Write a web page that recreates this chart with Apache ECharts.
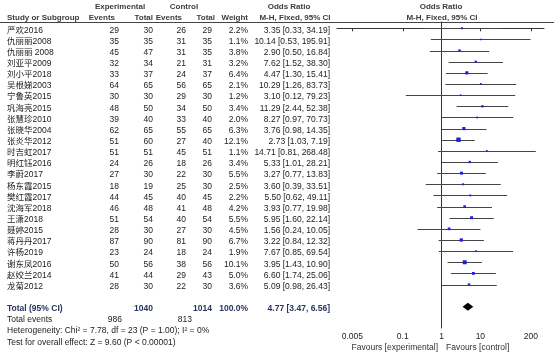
<!DOCTYPE html>
<html><head><meta charset="utf-8">
<script src="https://cdn.jsdelivr.net/npm/echarts@6/dist/echarts.min.js"></script>
<style>html,body{margin:0;padding:0;background:#fff}#c{width:554px;height:357px}</style>
</head><body><div id="c"></div>
<script>
const studies = ['严欢2016','仇丽丽2008','仇丽丽 2008','刘亚平2009','刘小平2018','吴根娣2003','宁鲁英2015','巩海亮2015','张慧珍2010','张晓华2004','张炎华2012','时吉虹2017','明红钰2016','李蔚2017','杨东霞2015','樊红霞2017','沈海军2018','王潇2018','聂婷2015','蒋丹丹2017','许杨2019','谢东凤2016','赵姣兰2014','龙菊2012'];
const expEvents = [29,35,45,32,33,64,30,48,39,62,51,51,24,27,18,44,46,51,28,87,23,50,41,28];
const expTotal = [30,35,47,34,37,65,30,50,40,65,60,51,26,30,19,45,48,54,30,90,24,56,44,30];
const ctrlEvents = [26,31,31,21,24,56,29,34,33,55,27,45,18,22,25,40,41,40,27,81,18,38,29,22];
const ctrlTotal = [29,35,35,31,37,65,30,50,40,65,40,51,26,30,30,45,48,54,30,90,24,56,43,30];
const weights = [2.2,1.1,3.8,3.2,6.4,2.1,1.2,3.4,2.0,6.3,12.1,1.1,3.4,5.5,2.5,2.2,4.2,5.5,4.5,6.7,1.9,10.1,5.0,3.6];
const oddsRatio = [3.35,10.14,2.90,7.62,4.47,10.29,3.10,11.29,8.27,3.76,2.73,14.71,5.33,3.27,3.60,5.50,3.93,5.95,1.56,3.22,7.67,3.95,6.60,5.09];
const ciLow = [0.33,0.53,0.50,1.52,1.30,1.26,0.12,2.44,0.97,0.98,1.03,0.81,1.01,0.77,0.39,0.62,0.77,1.60,0.24,0.84,0.85,1.43,1.74,0.98];
const ciHigh = [34.19,195.91,16.84,38.30,15.41,83.73,79.23,52.38,70.73,14.35,7.19,268.48,28.21,13.83,33.51,49.11,19.98,22.14,10.05,12.32,69.54,10.90,25.06,26.43];
const totalOR = [4.77, 3.47, 6.56];
const totalExp = 1040, totalCtrl = 1014, totalWeight = '100.0%';
const totalExpEvents = 986, totalCtrlEvents = 813;
const heterogeneity = 'Heterogeneity: Chi² = 7.78, df = 23 (P = 1.00); I² = 0%';
const overallTest = 'Test for overall effect: Z = 9.60 (P < 0.00001)';
const tickValues = [0.005, 0.1, 1, 10, 200];
const tickLabels = ['0.005', '0.1', '1', '10', '200'];

const FONT = "'Liberation Sans','Noto Sans CJK SC',sans-serif";
const FS = 8.5;
const HFS = 8;
const TXT = '#222';
const HDR = '#3c3c3c';
const TOT = '#27345e';
const L10 = Math.log10;
const totalRow = studies.length + 1;

function txt(x, y, text, align, extra) {
  return Object.assign({type:'text', x:x, y:y, silent:true,
    style:Object.assign({text:String(text), fill:TXT, fontSize:FS, fontFamily:FONT, align:align||'left', verticalAlign:'middle'}, extra||{})});
}
function fmtCI(o,l,h){return o.toFixed(2)+' ['+l.toFixed(2)+', '+h.toFixed(2)+']';}
const H = {fontWeight:'bold', fill:HDR, fontSize:HFS};

const chart = echarts.init(document.getElementById('c'));
chart.setOption({
  animation:false,
  grid:{left:337, right:10, top:22, bottom:29},
  xAxis:{type:'value', min:-2.695, max:2.64, splitLine:{show:false},
    axisLine:{lineStyle:{color:'#333', width:1}},
    axisTick:{show:true, length:3, lineStyle:{color:'#333'}, customValues:tickValues.map(L10)},
    axisLabel:{color:TXT, fontSize:FS, fontFamily:FONT, margin:4, customValues:tickValues.map(L10),
      formatter:function(v){for(let i=0;i<tickValues.length;i++){if(Math.abs(L10(tickValues[i])-v)<1e-6)return tickLabels[i];}return '';}}
  },
  yAxis:{type:'value', inverse:true, min:-0.565, max:26.9, splitLine:{show:false},
    axisLine:{show:true, onZero:true, lineStyle:{color:'#333', width:1}}, axisTick:{show:false}, axisLabel:{show:false}},
  graphic:[
    {type:'line', silent:true, shape:{x1:0,y1:22.5,x2:554,y2:22.5}, style:{stroke:'#444', lineWidth:1}},
    txt(120,7,'Experimental','center',H),
    txt(184,7,'Control','center',H),
    txt(289,7,'Odds Ratio','center',H),
    txt(441,7,'Odds Ratio','center',H),
    txt(7,18,'Study or Subgroup','left',H),
    txt(115,18,'Events','right',H),
    txt(153,18,'Total','right',H),
    txt(182,18,'Events','right',H),
    txt(215,18,'Total','right',H),
    txt(248,18,'Weight','right',H),
    txt(295,18,'M-H, Fixed, 95% CI','center',H),
    txt(442,18,'M-H, Fixed, 95% CI','center',H),
    txt(438,348,'Favours [experimental]','right',{fill:'#333'}),
    txt(446,348,'Favours [control]','left',{fill:'#333'})
  ],
  series:[
    { // table rows
      type:'custom', silent:true, clip:false,
      data:studies.map(function(s,i){return [0,i];}),
      renderItem:function(params, api){
        const i = params.dataIndex;
        const y = api.coord([0, api.value(1)])[1] + 2;
        return {type:'group', children:[
          txt(7,y,studies[i],'left'),
          txt(119,y,expEvents[i],'right'),
          txt(153,y,expTotal[i],'right'),
          txt(186,y,ctrlEvents[i],'right'),
          txt(212,y,ctrlTotal[i],'right'),
          txt(248,y,weights[i].toFixed(1)+'%','right'),
          txt(330,y,fmtCI(oddsRatio[i],ciLow[i],ciHigh[i]),'right')
        ]};
      }
    },
    { // footer rows
      type:'custom', silent:true, clip:false,
      data:[[0,totalRow],[0,totalRow+1],[0,totalRow+2],[0,totalRow+3]],
      renderItem:function(params, api){
        const i = params.dataIndex;
        const y = api.coord([0, api.value(1)])[1] + 2;
        let ch;
        if(i===0){
          const b = {fontWeight:'bold', fill:TOT};
          ch = [txt(7,y,'Total (95% CI)','left',b), txt(153,y,totalExp,'right',b), txt(212,y,totalCtrl,'right',b),
                txt(248,y,totalWeight,'right',b), txt(330,y,fmtCI(totalOR[0],totalOR[1],totalOR[2]),'right',b)];
        } else if(i===1){
          ch = [txt(7,y,'Total events','left'), txt(122,y,totalExpEvents,'right'), txt(192,y,totalCtrlEvents,'right')];
        } else if(i===2){
          ch = [txt(7,y,heterogeneity,'left')];
        } else {
          ch = [txt(7,y,overallTest,'left')];
        }
        return {type:'group', children:ch};
      }
    },
    { // CI lines
      type:'custom', silent:true,
      data:studies.map(function(s,i){return [L10(ciLow[i]), L10(ciHigh[i]), i];}),
      renderItem:function(params, api){
        const p1 = api.coord([api.value(0), api.value(2)]);
        const p2 = api.coord([api.value(1), api.value(2)]);
        const yy = Math.round(p1[1]) + 0.5;
        return {type:'line', shape:{x1:p1[0], y1:yy, x2:p2[0], y2:yy}, style:{stroke:'#444', lineWidth:1}};
      }
    },
    { // weight squares
      type:'scatter', silent:true, symbol:'rect',
      data:studies.map(function(s,i){return [L10(oddsRatio[i]), i, weights[i]];}),
      symbolSize:function(v){return Math.max(1.6, 1.25*Math.sqrt(v[2]));},
      itemStyle:{color:'#1c1ce6', opacity:1}
    },
    { // total diamond
      type:'custom', silent:true,
      data:[[L10(totalOR[0]), L10(totalOR[1]), L10(totalOR[2]), totalRow]],
      renderItem:function(params, api){
        const c = api.coord([api.value(0), api.value(3)]);
        const l = api.coord([api.value(1), api.value(3)]);
        const r = api.coord([api.value(2), api.value(3)]);
        return {type:'polygon', shape:{points:[[l[0],c[1]],[c[0],c[1]-4],[r[0],c[1]],[c[0],c[1]+4]]}, style:{fill:'#000'}};
      }
    }
  ]
});
</script></body></html>
